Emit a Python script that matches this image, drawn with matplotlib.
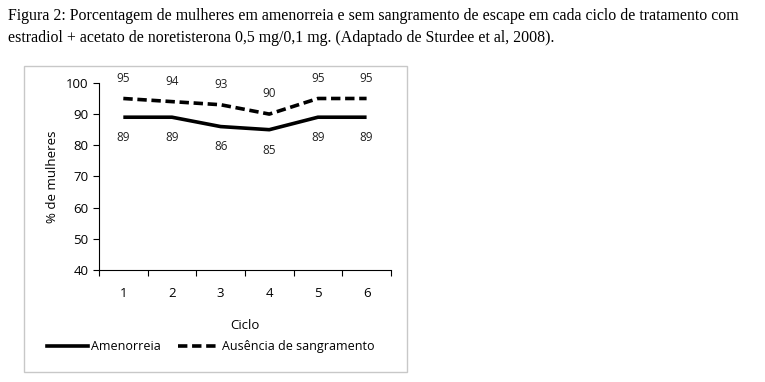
import matplotlib.pyplot as plt
from matplotlib.patches import Rectangle
from matplotlib.lines import Line2D

ciclos = ['1', '2', '3', '4', '5', '6']
amenorreia = [89, 89, 86, 85, 89, 89]
sem_sangramento = [95, 94, 93, 90, 95, 95]

titulo = ('Figura 2: Porcentagem de mulheres em amenorreia e sem sangramento de escape em cada ciclo de tratamento com\n'
          'estradiol + acetato de noretisterona 0,5 mg/0,1 mg. (Adaptado de Sturdee et al, 2008).')

plt.rcParams['font.family'] = ['Open Sans', 'DejaVu Sans']

fig = plt.figure(figsize=(7.65, 3.82), dpi=100)
fig.text(0.011, 0.98, titulo, family='Liberation Serif', fontsize=11.4, va='top', ha='left',
         linespacing=1.55)

# chart frame
fig.patches.append(Rectangle((0.0314, 0.026), 0.5006, 0.801, transform=fig.transFigure,
                             fill=False, edgecolor='#c8c8c8', lw=1))

ax = fig.add_axes([0.1294, 0.293, 0.3816, 0.49])
x = list(range(len(ciclos)))
ax.plot(x, amenorreia, color='black', lw=2.6, solid_capstyle='butt')
ax.plot(x, sem_sangramento, color='black', lw=2.6, dashes=(2.6, 1.3), dash_capstyle='butt')

for xi, v in zip(x, amenorreia):
    ax.annotate(str(v), (xi, v), xytext=(0, -10), textcoords='offset points',
                ha='center', va='top', fontsize=8.5, color='#222222')
for xi, v in zip(x, sem_sangramento):
    ax.annotate(str(v), (xi, v), xytext=(0, 10), textcoords='offset points',
                ha='center', va='bottom', fontsize=8.5, color='#222222')

ax.set_xlim(-0.5, len(ciclos) - 0.5)
ax.set_ylim(40, 100)
ax.set_yticks(range(40, 101, 10))
ax.set_xticks(x)
ax.set_xticklabels(ciclos)
ax.set_xticks([i - 0.5 for i in range(len(ciclos) + 1)], minor=True)
ax.tick_params(axis='x', which='major', length=0, pad=12, labelsize=9.5)
ax.tick_params(axis='x', which='minor', length=4, color='black', width=0.8)
ax.tick_params(axis='y', length=4, width=0.8, labelsize=9.5)
for s in ['top', 'right']:
    ax.spines[s].set_visible(False)
ax.spines['left'].set_linewidth(0.8)
ax.spines['bottom'].set_linewidth(0.8)
ax.set_ylabel('% de mulheres', fontsize=9.5, labelpad=5)
ax.set_xlabel('Ciclo', fontsize=9.5, labelpad=14)

handles = [Line2D([], [], color='black', lw=2.6),
           Line2D([], [], color='black', lw=2.6, dashes=(2.6, 1.3))]
fig.legend(handles, ['Amenorreia', 'Ausência de sangramento'], loc='center',
           bbox_to_anchor=(0.275, 0.092), ncol=2, frameon=False, fontsize=9,
           handlelength=3.3, handletextpad=0.2, columnspacing=1.4)

fig.savefig('out.png', dpi=100)
